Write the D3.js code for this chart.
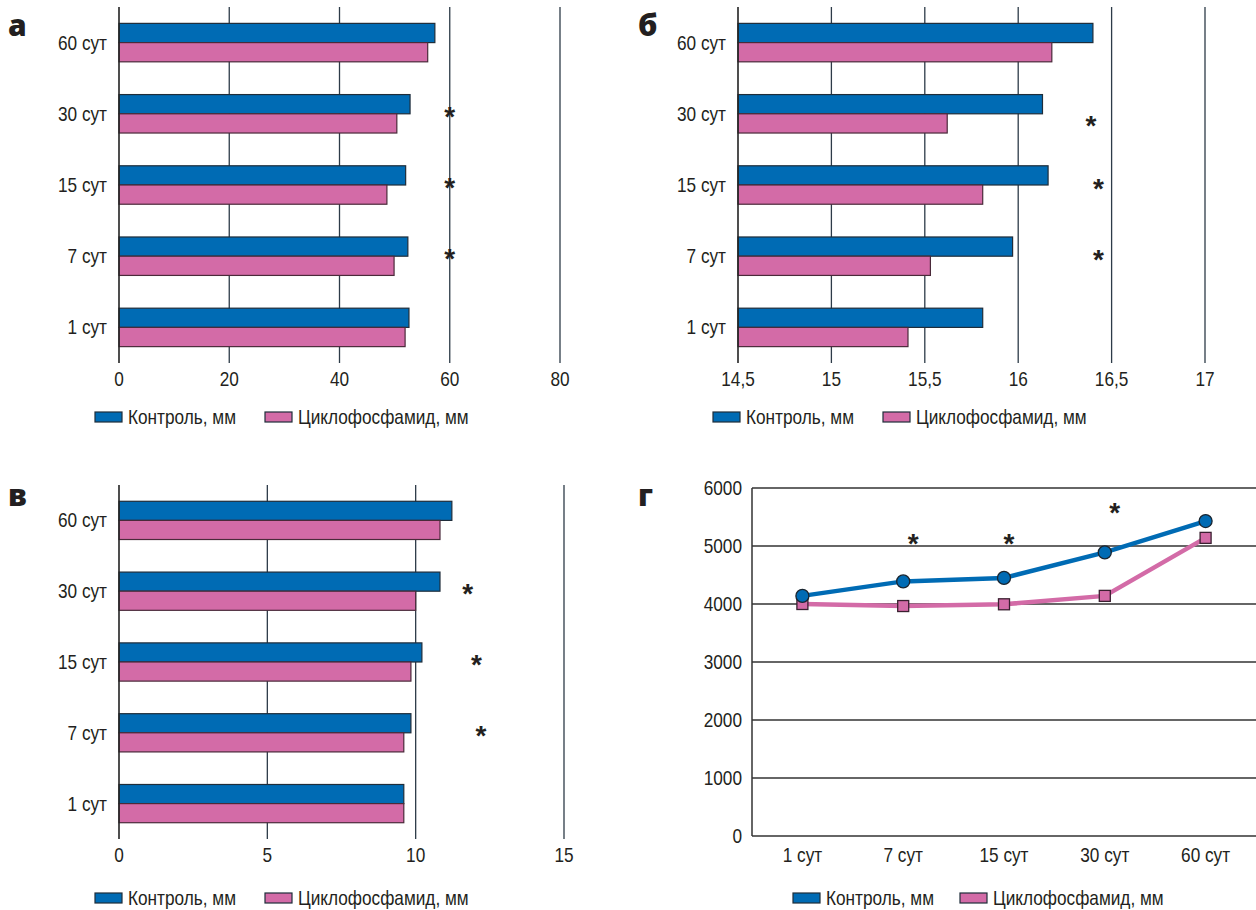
<!DOCTYPE html>
<html>
<head>
<meta charset="utf-8">
<script src="https://cdn.jsdelivr.net/npm/d3@7"></script>
<style>
  body { margin: 0; background: #fff; }
  text { font-family: "Liberation Sans", Arial, sans-serif; fill: #231f20; }
</style>
</head>
<body>
<div id="container"></div>
<script>
// data
let days = ["60 сут", "30 сут", "15 сут", "7 сут", "1 сут"];   // top to bottom in bar panels
let lineDays = ["1 сут", "7 сут", "15 сут", "30 сут", "60 сут"];

// panel а
let aControl = [57.3, 52.8, 52.0, 52.4, 52.6];
let aCyclo   = [56.0, 50.4, 48.6, 49.9, 51.9];
let aStars   = [null, 60, 60, 60, null];
let aTicks   = [0, 20, 40, 60, 80];

// panel б
let bControl = [16.40, 16.13, 16.16, 15.97, 15.81];
let bCyclo   = [16.18, 15.62, 15.81, 15.53, 15.41];
let bStars   = [null, 16.39, 16.43, 16.43, null];
let bTicks   = [14.5, 15, 15.5, 16, 16.5, 17];

// panel в
let vControl = [11.22, 10.82, 10.21, 9.84, 9.6];
let vCyclo   = [10.82, 10.0, 9.84, 9.6, 9.6];
let vStars   = [null, 11.75, 12.05, 12.2, null];
let vTicks   = [0, 5, 10, 15];

// panel г
let gControl = [4140, 4390, 4450, 4890, 5430];
let gCyclo   = [4000, 3965, 3995, 4140, 5140];
let gStars   = [null, 5080, 5080, 5620, null];
let gTicks   = [0, 1000, 2000, 3000, 4000, 5000, 6000];

let legendNames = ["Контроль, мм", "Циклофосфамид, мм"];

// small nudges for the asterisks (px), layout only
let bStarDy = [0, 9, 1, 1, 0];
let gStarDx = [0, 10, 5, 10, 0];

let blue = "#006bb4";
let pink = "#d36ba7";
let edge = "#1f2d3a";
let grid = "#2d3b48";
let squeeze = 0.82;   // fake a condensed face

let w = 1256;
let h = 910;

let viz = d3.select("#container")
  .append("svg")
    .attr("width", w)
    .attr("height", h)
;

function place(x, y){
  return "translate(" + x + "," + y + ") scale(" + squeeze + ",1)";
}

function label(parent, t, x, y, anchor){
  return parent.append("text")
    .text(t)
    .attr("transform", place(x, y))
    .attr("text-anchor", anchor || "start")
    .attr("font-size", 21)
  ;
}

function panelLetter(t, x, y){
  viz.append("text")
    .text(t)
    .attr("x", x)
    .attr("y", y)
    .style("font-family", "'Open Sans', 'DejaVu Sans', sans-serif")
    .attr("font-weight", 800)
    .attr("font-size", 30)
  ;
}

function legend(x1, x2, y){
  let cols = [blue, pink];
  let xs = [x1, x2];
  for(let i=0;i<2;i++){
    viz.append("rect")
      .attr("x", xs[i])
      .attr("y", y-5)
      .attr("width", 27)
      .attr("height", 10)
      .attr("fill", cols[i])
      .attr("stroke", edge)
      .attr("stroke-width", 1.2)
    ;
    label(viz, legendNames[i], xs[i]+33, y+7);
  }
}

function star(x, y){
  viz.append("text")
    .text("*")
    .attr("x", x)
    .attr("y", y+12)
    .attr("text-anchor", "middle")
    .attr("font-size", 28)
    .attr("font-weight", "bold")
  ;
}

// horizontal bar panel
function barPanel(control, cyclo, stars, starDy, ticks, xRange, yRange, labelRight){
  let xScale = d3.scaleLinear().domain([ticks[0], ticks[ticks.length-1]]).range(xRange);
  let yScale = d3.scaleBand().domain(days).range(yRange).paddingInner(0.46).paddingOuter(0.23);
  let g = viz.append("g");

  // vertical grid lines
  g.selectAll(".grid").data(ticks.slice(1)).enter()
    .append("line")
      .attr("x1", d => xScale(d))
      .attr("x2", d => xScale(d))
      .attr("y1", yRange[0])
      .attr("y2", yRange[1])
      .attr("stroke", grid)
      .attr("stroke-width", 1.3)
  ;

  let half = yScale.bandwidth()/2;
  g.selectAll(".ctrl").data(control).enter()
    .append("rect")
      .attr("x", xScale(ticks[0]))
      .attr("y", (d, i) => yScale(days[i]))
      .attr("width", d => xScale(d) - xScale(ticks[0]))
      .attr("height", half)
      .attr("fill", blue)
      .attr("stroke", edge)
      .attr("stroke-width", 1.2)
  ;
  g.selectAll(".cyc").data(cyclo).enter()
    .append("rect")
      .attr("x", xScale(ticks[0]))
      .attr("y", (d, i) => yScale(days[i]) + half)
      .attr("width", d => xScale(d) - xScale(ticks[0]))
      .attr("height", half)
      .attr("fill", pink)
      .attr("stroke", "#4a2a3a")
      .attr("stroke-width", 1.2)
  ;

  // axis line at the left
  g.append("line")
    .attr("x1", xScale(ticks[0]))
    .attr("x2", xScale(ticks[0]))
    .attr("y1", yRange[0])
    .attr("y2", yRange[1])
    .attr("stroke", "#222")
    .attr("stroke-width", 1.6)
  ;

  // category labels
  days.forEach(function(d){
    label(g, d, labelRight, yScale(d) + half + 7, "end");
  });

  // tick labels
  ticks.forEach(function(t){
    label(g, String(t).replace(".", ","), xScale(t), yRange[1] + 23, "middle");
  });

  stars.forEach(function(s, i){
    if(s != null){
      star(xScale(s), yScale(days[i]) + half + starDy[i]);
    }
  });
}

let zeros = [0, 0, 0, 0, 0];

panelLetter("а", 8, 36);
barPanel(aControl, aCyclo, aStars, zeros, aTicks, [119, 560], [7, 363], 107);
legend(95, 265, 417);

panelLetter("б", 638, 36);
barPanel(bControl, bCyclo, bStars, bStarDy, bTicks, [738, 1205], [7, 363], 726);
legend(713, 883, 417);

panelLetter("в", 8, 506);
barPanel(vControl, vCyclo, vStars, zeros, vTicks, [119, 564], [485, 839], 107);
legend(95, 265, 898);

// panel г : line chart
panelLetter("г", 638, 506);
(function(){
  let xScale = d3.scaleBand().domain(lineDays).range([752, 1256]);
  let yScale = d3.scaleLinear().domain([0, 6000]).range([836, 488]);
  let cx = d => xScale(d) + xScale.bandwidth()/2;
  let g = viz.append("g");

  g.selectAll(".grid").data(gTicks).enter()
    .append("line")
      .attr("x1", 752)
      .attr("x2", 1256)
      .attr("y1", d => yScale(d))
      .attr("y2", d => yScale(d))
      .attr("stroke", "#333")
      .attr("stroke-width", 1.3)
  ;
  g.append("line")
    .attr("x1", 752).attr("x2", 752)
    .attr("y1", yScale(6000)).attr("y2", yScale(0))
    .attr("stroke", "#333")
    .attr("stroke-width", 1.5)
  ;

  gTicks.forEach(function(t){
    label(g, t, 742, yScale(t) + 7, "end");
  });
  lineDays.forEach(function(d){
    label(g, d, cx(d), 862, "middle");
  });

  let line = d3.line()
    .x((d, i) => cx(lineDays[i]))
    .y(d => yScale(d));

  g.append("path")
    .attr("d", line(gCyclo))
    .attr("fill", "none")
    .attr("stroke", pink)
    .attr("stroke-width", 4.5)
  ;
  g.append("path")
    .attr("d", line(gControl))
    .attr("fill", "none")
    .attr("stroke", blue)
    .attr("stroke-width", 4.5)
  ;

  g.selectAll(".sq").data(gCyclo).enter()
    .append("rect")
      .attr("x", (d, i) => cx(lineDays[i]) - 5.5)
      .attr("y", d => yScale(d) - 5.5)
      .attr("width", 11)
      .attr("height", 11)
      .attr("fill", pink)
      .attr("stroke", "#3a2030")
      .attr("stroke-width", 1.3)
  ;
  g.selectAll(".dot").data(gControl).enter()
    .append("circle")
      .attr("cx", (d, i) => cx(lineDays[i]))
      .attr("cy", d => yScale(d))
      .attr("r", 6.5)
      .attr("fill", blue)
      .attr("stroke", "#1a2530")
      .attr("stroke-width", 1.3)
  ;

  gStars.forEach(function(s, i){
    if(s != null){
      star(cx(lineDays[i]) + gStarDx[i], yScale(s));
    }
  });
})();
legend(793, 960, 898);
</script>
</body>
</html>
